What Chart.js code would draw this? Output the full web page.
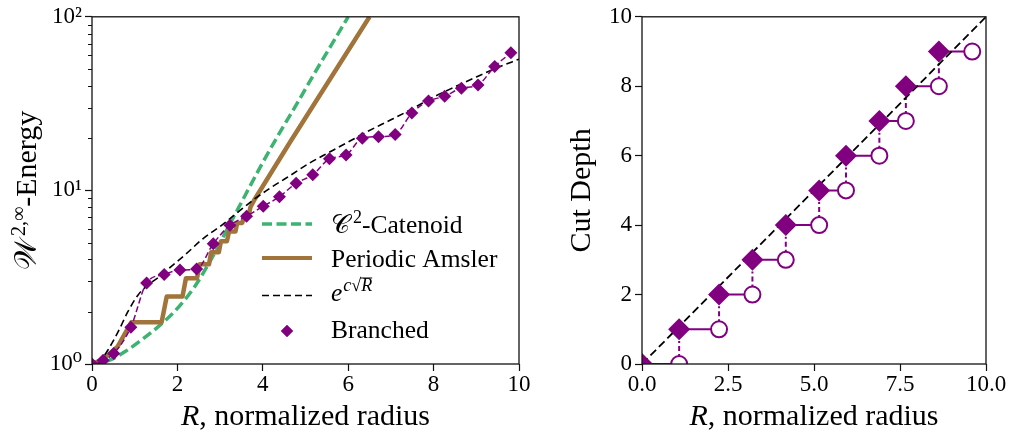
<!DOCTYPE html>
<html>
<head>
<meta charset="utf-8">
<script src="https://cdn.jsdelivr.net/npm/chart.js@4.4.1/dist/chart.umd.min.js"></script>
<style>
html, body { margin: 0; padding: 0; background: #fff; }
#wrap { position: relative; width: 1011px; height: 436px; overflow: hidden; }
.panel { position: absolute; top: 0; }
#energyPanel { left: 0; }
#depthPanel { left: 540px; }
</style>
</head>
<body>
<div id="wrap">
	<div class="panel" id="energyPanel"><canvas id="energyChart" width="540" height="436"></canvas></div>
	<div class="panel" id="depthPanel"><canvas id="depthChart" width="471" height="436"></canvas></div>
</div>
<script>
// left panel: energy vs normalized radius (log y)
const catenoidR = [0, 0.4, 0.8, 1.2, 1.6, 2.0, 2.4, 2.8, 3.2, 3.6, 4.0, 4.4, 4.8, 5.2, 5.6, 6.0];
const catenoidE = [1.0, 1.05, 1.19, 1.40, 1.68, 2.09, 2.78, 4.05, 6.2, 9.5, 14.5, 21.6, 31.6, 46.8, 68.4, 100];

const amslerR = [0, 0.25, 0.6, 0.92, 1.63, 1.75, 2.12, 2.2, 2.46, 2.52, 2.74, 2.79, 2.97, 3.02, 3.16, 3.21, 3.36, 3.4, 3.52, 3.56, 3.67, 3.71, 3.8, 4.64, 6.5];
const amslerE = [1.0, 1.06, 1.26, 1.74, 1.74, 2.45, 2.45, 3.12, 3.12, 3.75, 3.75, 4.4, 4.4, 5.1, 5.1, 5.8, 5.8, 6.5, 6.5, 7.2, 7.2, 8.0, 8.8, 19.0, 100];

const expFitR = [0.15, 0.37, 0.61, 0.84, 1.08, 1.31, 1.59, 1.83, 2.2, 2.61, 3.0, 3.39, 3.8, 4.17, 4.6, 5.1, 5.6, 6.0, 6.43, 7.0, 7.5, 8.0, 8.5, 9.0, 9.5, 10];
const expFitE = [1.0, 1.2, 1.53, 2.0, 2.5, 2.85, 3.2, 3.6, 4.3, 5.3, 6.2, 7.4, 8.9, 10.3, 12.0, 14.4, 16.8, 19.0, 21.7, 25.5, 29.5, 34.5, 39.5, 45.0, 51.0, 57.0];

const branchedR = [0, 0.26, 0.51, 0.91, 1.28, 1.69, 2.06, 2.45, 2.84, 3.23, 3.62, 4.01, 4.39, 4.78, 5.17, 5.56, 5.95, 6.33, 6.71, 7.1, 7.49, 7.88, 8.26, 8.65, 9.04, 9.43, 9.81];
const branchedE = [1.0, 1.05, 1.15, 1.63, 2.93, 3.28, 3.48, 3.52, 4.93, 6.29, 7.1, 8.1, 9.2, 11.0, 12.3, 15.2, 16.0, 20.0, 20.4, 21.0, 27.9, 32.7, 34.9, 38.8, 40.5, 51.8, 62.0];

const energyMajorTicks = [1, 10, 100];
const energyTickLabels = ["10\u2070", "10\u00B9", "10\u00B2"];
const energyMinorTicks = [2, 3, 4, 5, 6, 7, 8, 9, 20, 30, 40, 50, 60, 70, 80, 90];

// right panel: cut depth vs normalized radius
const cutRadius = [0, 1.08, 2.24, 3.21, 4.18, 5.15, 5.93, 6.9, 7.67, 8.63];
const cutDepth = [0, 1, 2, 3, 4, 5, 6, 7, 8, 9];
const nextRadius = [1.08, 2.24, 3.21, 4.18, 5.15, 5.93, 6.9, 7.67, 8.63, 9.6];
const idealR = [0, 10];
const idealDepth = [0, 10];

const PURPLE = "#800080";
const GREEN = "#3cb371";
const BROWN = "#a0743a";
const SERIF = '"Liberation Serif", "DejaVu Serif", serif';
const INK = "#111";

Chart.defaults.font.family = SERIF;
Chart.defaults.color = "#000";
Chart.defaults.animation = false;

const zip = (xs, ys) => xs.map((x, i) => ({x, y: ys[i]}));

// draws text pieces side by side, some of them raised (superscripts)
const drawRuns = (ctx, runs, x, y, align) => {
	let width = 0;
	runs.forEach(run => {
		ctx.font = run.font;
		run.w = ctx.measureText(run.text).width + (run.gap || 0);
		width += run.w;
	});
	let cx = align === "center" ? x - width / 2 : x;
	ctx.textAlign = "left";
	ctx.textBaseline = "alphabetic";
	ctx.fillStyle = "#000";
	runs.forEach(run => {
		ctx.font = run.font;
		const ry = y - (run.rise || 0);
		const sx = cx + (run.gap || 0);
		ctx.fillText(run.text, sx, ry);
		if (run.bar) {
			ctx.save();
			ctx.strokeStyle = "#000";
			ctx.lineWidth = 1;
			ctx.beginPath();
			ctx.moveTo(sx - 1, ry - run.bar);
			ctx.lineTo(cx + run.w, ry - run.bar);
			ctx.stroke();
			ctx.restore();
		}
		cx += run.w;
	});
};

const frame = {
	id: "frame",
	afterDatasetsDraw: chart => {
		const {ctx, chartArea} = chart;
		ctx.save();
		ctx.strokeStyle = INK;
		ctx.lineWidth = 1.3;
		ctx.strokeRect(chartArea.left, chartArea.top, chartArea.right - chartArea.left, chartArea.bottom - chartArea.top);
		ctx.restore();
	}
};

const minorTicks = {
	id: "minorTicks",
	afterDraw: chart => {
		const {ctx, chartArea} = chart;
		const y = chart.scales.y;
		ctx.save();
		ctx.strokeStyle = INK;
		ctx.lineWidth = 1;
		energyMinorTicks.forEach(v => {
			const py = Math.round(y.getPixelForValue(v)) + 0.5;
			ctx.beginPath();
			ctx.moveTo(chartArea.left - 4, py);
			ctx.lineTo(chartArea.left, py);
			ctx.stroke();
		});
		ctx.restore();
	}
};

const axisTitles = (yRuns, yBaseX) => ({
	id: "axisTitles",
	afterDraw: chart => {
		const {ctx, chartArea} = chart;
		const midX = (chartArea.left + chartArea.right) / 2;
		const midY = (chartArea.top + chartArea.bottom) / 2;
		ctx.save();
		drawRuns(ctx, [
			{text: "R", font: `italic 30px ${SERIF}`},
			{text: ", normalized radius", font: `30px ${SERIF}`}
		], midX, 425, "center");
		ctx.translate(yBaseX, midY);
		ctx.rotate(-Math.PI / 2);
		drawRuns(ctx, yRuns, 0, 0, "center");
		ctx.restore();
	}
});

const energyLegend = {
	id: "energyLegend",
	afterDraw: chart => {
		const ctx = chart.ctx;
		const x0 = 262, x1 = 312, tx = 331;
		ctx.save();
		ctx.lineCap = "butt";
		// catenoid
		ctx.strokeStyle = GREEN; ctx.lineWidth = 3.5; ctx.setLineDash([10, 4.5]);
		ctx.beginPath(); ctx.moveTo(x0, 224); ctx.lineTo(x1, 224); ctx.stroke();
		// amsler
		ctx.strokeStyle = BROWN; ctx.lineWidth = 4; ctx.setLineDash([]);
		ctx.beginPath(); ctx.moveTo(x0, 258); ctx.lineTo(x1, 258); ctx.stroke();
		// exp fit
		ctx.strokeStyle = "#000"; ctx.lineWidth = 1.6; ctx.setLineDash([7, 4]);
		ctx.beginPath(); ctx.moveTo(x0, 295.5); ctx.lineTo(x1, 295.5); ctx.stroke();
		ctx.setLineDash([]);
		ctx.fillStyle = PURPLE;
		Chart.helpers.drawPoint(ctx, {pointStyle: "rectRot", radius: 6, borderWidth: 0}, 287, 331);
		ctx.fill();
		const f = `25.5px ${SERIF}`, s = `18px ${SERIF}`;
		drawRuns(ctx, [{text: "\uD835\uDC9E", font: f}, {text: "2", font: s, rise: 10, gap: 3}, {text: "-Catenoid", font: f}], tx, 233, "left");
		drawRuns(ctx, [{text: "Periodic Amsler", font: f}], tx, 267, "left");
		drawRuns(ctx, [
			{text: "e", font: `italic ${f}`},
			{text: "c", font: `italic ${s}`, rise: 10, gap: 1},
			{text: "\u221A", font: s, rise: 10},
			{text: "R", font: `italic ${s}`, rise: 10, bar: 13}
		], tx, 301, "left");
		drawRuns(ctx, [{text: "Branched", font: f}], tx, 338, "left");
		ctx.restore();
	}
};

const tickFont = {size: 23, family: SERIF};
const axisGrid = {display: true, drawOnChartArea: false, drawTicks: true, tickLength: 7, tickColor: INK, tickWidth: 1.2};

new Chart(document.querySelector("#energyChart"), {
	type: "line",
	data: {
		datasets: [{
			label: "Branched",
			data: zip(branchedR, branchedE),
			borderColor: PURPLE,
			backgroundColor: PURPLE,
			borderWidth: 1.5,
			borderDash: [6, 3],
			cubicInterpolationMode: "monotone",
			pointStyle: "rectRot",
			pointRadius: 6.5,
			pointBorderWidth: 0,
			clip: 0
		}, {
			label: "exp fit",
			data: zip(expFitR, expFitE),
			borderColor: "#000",
			borderWidth: 1.6,
			borderDash: [7, 4],
			cubicInterpolationMode: "monotone",
			pointRadius: 0,
			clip: 0
		}, {
			label: "Periodic Amsler",
			data: zip(amslerR, amslerE),
			borderColor: BROWN,
			borderWidth: 4.5,
			borderJoinStyle: "round",
			tension: 0,
			pointRadius: 0,
			clip: 0
		}, {
			label: "Catenoid",
			data: zip(catenoidR, catenoidE),
			borderColor: GREEN,
			borderWidth: 3.5,
			borderDash: [10, 4.5],
			cubicInterpolationMode: "monotone",
			pointRadius: 0,
			clip: 0
		}]
	},
	options: {
		responsive: false,
		layout: {padding: {left: 0, right: 21, top: 14, bottom: 0}},
		plugins: {legend: {display: false}, tooltip: {enabled: false}},
		scales: {
			x: {
				type: "linear",
				min: 0,
				max: 10,
				grid: axisGrid,
				border: {display: false},
				ticks: {stepSize: 2, font: tickFont, padding: 0, maxRotation: 0},
				afterFit: scale => { scale.height = 72; }
			},
			y: {
				type: "logarithmic",
				min: 1,
				max: 100,
				grid: axisGrid,
				border: {display: false},
				afterBuildTicks: scale => { scale.ticks = energyMajorTicks.map(value => ({value})); },
				ticks: {
					font: tickFont,
					padding: 3,
					autoSkip: false,
					callback: value => energyTickLabels[energyMajorTicks.indexOf(value)] || ""
				},
				afterFit: scale => { scale.width = 92; }
			}
		}
	},
	plugins: [frame, minorTicks, energyLegend, axisTitles([
		{text: "\uD835\uDCB2", font: `30px ${SERIF}`},
		{text: "2,\u221E", font: `20px ${SERIF}`, rise: 11, gap: 3},
		{text: "-Energy", font: `30px ${SERIF}`}
	], 36)]
});

// segments for the right panel, broken with gaps
const stepSegments = [];
const riseSegments = [];
cutDepth.forEach((d, i) => {
	stepSegments.push({x: cutRadius[i], y: d}, {x: nextRadius[i], y: d}, {x: nextRadius[i], y: null});
	if (i < cutDepth.length - 1)
		riseSegments.push({x: nextRadius[i], y: d}, {x: nextRadius[i], y: d + 1}, {x: nextRadius[i], y: null});
});

new Chart(document.querySelector("#depthChart"), {
	type: "line",
	data: {
		datasets: [{
			label: "cut",
			data: zip(cutRadius, cutDepth),
			showLine: false,
			pointStyle: "rectRot",
			pointRadius: 11,
			backgroundColor: PURPLE,
			borderColor: PURPLE,
			pointBorderWidth: 0,
			clip: 0
		}, {
			label: "next",
			data: zip(nextRadius, cutDepth),
			showLine: false,
			pointStyle: "circle",
			pointRadius: 8,
			backgroundColor: "#fff",
			borderColor: PURPLE,
			pointBorderWidth: 2,
			clip: 0
		}, {
			label: "ideal",
			data: zip(idealR, idealDepth),
			borderColor: "#000",
			borderWidth: 1.8,
			borderDash: [8, 4],
			pointRadius: 0,
			clip: 0
		}, {
			label: "steps",
			data: stepSegments,
			borderColor: PURPLE,
			borderWidth: 2,
			spanGaps: false,
			pointRadius: 0,
			clip: 0
		}, {
			label: "rises",
			data: riseSegments,
			borderColor: PURPLE,
			borderWidth: 2,
			borderDash: [5, 3, 2, 3],
			spanGaps: false,
			pointRadius: 0,
			clip: 0
		}]
	},
	options: {
		responsive: false,
		layout: {padding: {left: 0, right: 25, top: 14, bottom: 0}},
		plugins: {legend: {display: false}, tooltip: {enabled: false}},
		scales: {
			x: {
				type: "linear",
				min: 0,
				max: 10,
				grid: axisGrid,
				border: {display: false},
				ticks: {stepSize: 2.5, font: tickFont, padding: 0, maxRotation: 0, callback: v => v.toFixed(1)},
				afterFit: scale => { scale.height = 72; }
			},
			y: {
				type: "linear",
				min: 0,
				max: 10,
				grid: axisGrid,
				border: {display: false},
				ticks: {stepSize: 2, font: tickFont, padding: 3},
				afterFit: scale => { scale.width = 102; }
			}
		}
	},
	plugins: [frame, axisTitles([{text: "Cut Depth", font: `30px ${SERIF}`}], 50)]
});
</script>
</body>
</html>
